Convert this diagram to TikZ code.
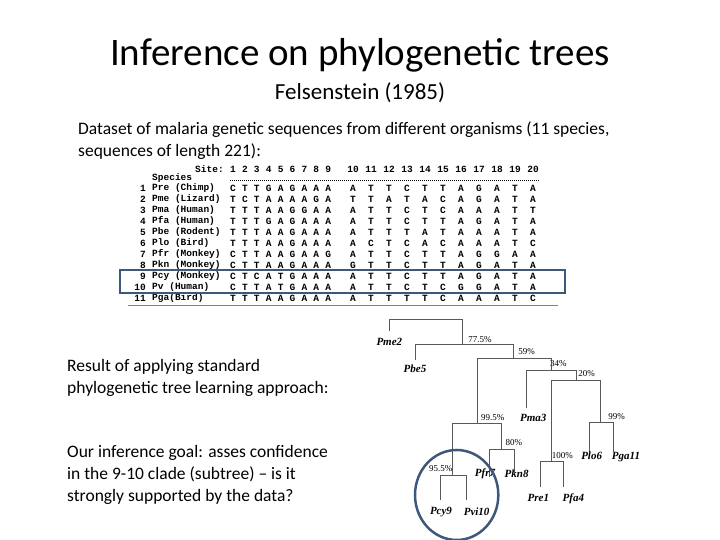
\documentclass[tikz,border=0pt]{standalone}
\usepackage{fontspec}
\setmainfont{Carlito}
\newfontfamily\seqfont{Liberation Mono}
\newfontfamily\treefont{Liberation Serif}
\usetikzlibrary{calc,positioning}
\definecolor{boxblue}{RGB}{62,88,124}
\tikzset{
  seq/.style={font=\seqfont\bfseries\fontsize{9.5}{9.5}\selectfont,inner sep=0pt},
  leaf/.style={font=\treefont\bfseries\itshape\fontsize{11}{11}\selectfont,inner sep=1pt},
  pct/.style={font=\treefont\fontsize{9}{9}\selectfont,inner sep=1pt},
  branch/.style={gray!70!black,line width=0.8pt},
  body/.style={font=\fontsize{17.5}{22}\selectfont,align=left,anchor=north west,inner sep=0pt}
}
\begin{document}
\begin{tikzpicture}[x=1pt,y=-1pt]
    \useasboundingbox (0,0) rectangle (720,540);

    % Titles
    \node[font=\fontsize{39}{39}\selectfont] (title) at (360,55) {Inference on phylogenetic trees};
    \node[font=\fontsize{23}{23}\selectfont] (sub) at (360,93) {Felsenstein (1985)};
    \node[body] (intro) at (78,122) {Dataset of malaria genetic sequences from different organisms (11 species,\\sequences of length 221):};

    % Sequence table
    \node[seq,anchor=west] (site) at (195,169) {Site:};
    \node[seq,anchor=west] (spec) at (152,178) {Species};
    \draw[densely dotted,line width=1pt] (230,181) -- (540,181);
    \foreach \i in {1,...,20} {
        \pgfmathsetmacro\cx{\i<10 ? 233+11.9*(\i-1) : 353+18*(\i-10)}
        \node[seq] at (\cx,169) {\i};
    }
    \foreach \lab/\row [count=\r] in {
        Pre (Chimp)/{C,T,T,G,A,G,A,A,A,A,T,T,C,T,T,A,G,A,T,A},
        Pme (Lizard)/{T,C,T,A,A,A,A,G,A,T,T,A,T,A,C,A,G,A,T,A},
        Pma (Human)/{T,T,T,A,A,G,G,A,A,A,T,T,C,T,C,A,A,A,T,T},
        Pfa (Human)/{T,T,T,G,A,G,A,A,A,A,T,T,C,T,T,A,G,A,T,A},
        Pbe (Rodent)/{T,T,T,A,A,G,A,A,A,A,T,T,T,A,T,A,A,A,T,A},
        Plo (Bird)/{T,T,T,A,A,G,A,A,A,A,C,T,C,A,C,A,A,A,T,C},
        Pfr (Monkey)/{C,T,T,A,A,G,A,A,G,A,T,T,C,T,T,A,G,G,A,A},
        Pkn (Monkey)/{C,T,T,A,A,G,A,A,A,G,T,T,C,T,T,A,G,A,T,A},
        Pcy (Monkey)/{C,T,C,A,T,G,A,A,A,A,T,T,C,T,T,A,G,A,T,A},
        Pv (Human)/{C,T,T,A,T,G,A,A,A,A,T,T,C,T,C,G,G,A,T,A},
        Pga(Bird)/{T,T,T,A,A,G,A,A,A,A,T,T,T,T,C,A,A,A,T,C}} {
        \pgfmathsetmacro\ry{188+11*(\r-1)}
        \node[seq,anchor=east] at (146,\ry) {\r};
        \node[seq,anchor=west] at (152,\ry) {\lab};
        \foreach \c [count=\i] in \row {
            \pgfmathsetmacro\cx{\i<10 ? 233+11.9*(\i-1) : 353+18*(\i-10)}
            \node[seq] at (\cx,\ry) {\c};
        }
    }
    \draw[gray,line width=1pt] (128,305) -- (558,305);
    \draw[boxblue,line width=2.5pt] (120,270) rectangle (565,293);

    % Left text
    \node[body] (result) at (67,359) {Result of applying standard\\phylogenetic tree learning approach:};
    \node[body] (goal) at (67,445) {Our inference goal: asses confidence\\in the 9-10 clade (subtree) -- is it\\strongly supported by the data?};

    % Tree
    \begin{scope}[shift={(370,310)},x=0.3333pt,y=-0.3333pt]
        \draw[branch] (58,62) |- (278,28) -- (278,103);
        \draw[branch] (135,150) |- (430,103) -- (430,145);
        \draw[branch] (322,340) |- (545,145) -- (545,180);
        \draw[branch] (470,295) |- (620,180) -- (620,210);
        \draw[branch] (543,455) |- (690,210) -- (690,338);
        \draw[branch] (657,425) |- (730,338) -- (730,425);
        \draw[branch] (510,530) |- (580,455) -- (580,530);
        \draw[branch] (247,497) |- (395,340) -- (395,418);
        \draw[branch] (358,500) |- (432,418) -- (432,490);
        \draw[branch] (210,570) |- (288,497) -- (288,570);
        \node[leaf] (pme) at (58,95) {Pme2};
        \node[leaf] (pbe) at (135,177) {Pbe5};
        \node[leaf] (pma) at (490,325) {Pma3};
        \node[leaf] (plo) at (665,437) {Plo6};
        \node[leaf] (pga) at (768,442) {Pga11};
        \node[leaf] (pre) at (505,565) {Pre1};
        \node[leaf] (pfa) at (610,565) {Pfa4};
        \node[leaf] (pfr) at (345,490) {Pfr7};
        \node[leaf] (pkn) at (440,490) {Pkn8};
        \node[leaf] (pcy) at (213,605) {Pcy9};
        \node[leaf] (pvi) at (320,605) {Pvi10};
        \node[pct] at (330,88) {77.5\%};
        \node[pct] at (470,125) {59\%};
        \node[pct] at (565,160) {34\%};
        \node[pct] at (650,192) {20\%};
        \node[pct] at (740,320) {99\%};
        \node[pct] at (368,323) {99.5\%};
        \node[pct] at (432,398) {80\%};
        \node[pct] at (577,438) {100\%};
        \node[pct] at (212,475) {95.5\%};
        \draw[boxblue,line width=2.5pt] (260,555) ellipse (125 and 135);
    \end{scope}
\end{tikzpicture}
\end{document}
